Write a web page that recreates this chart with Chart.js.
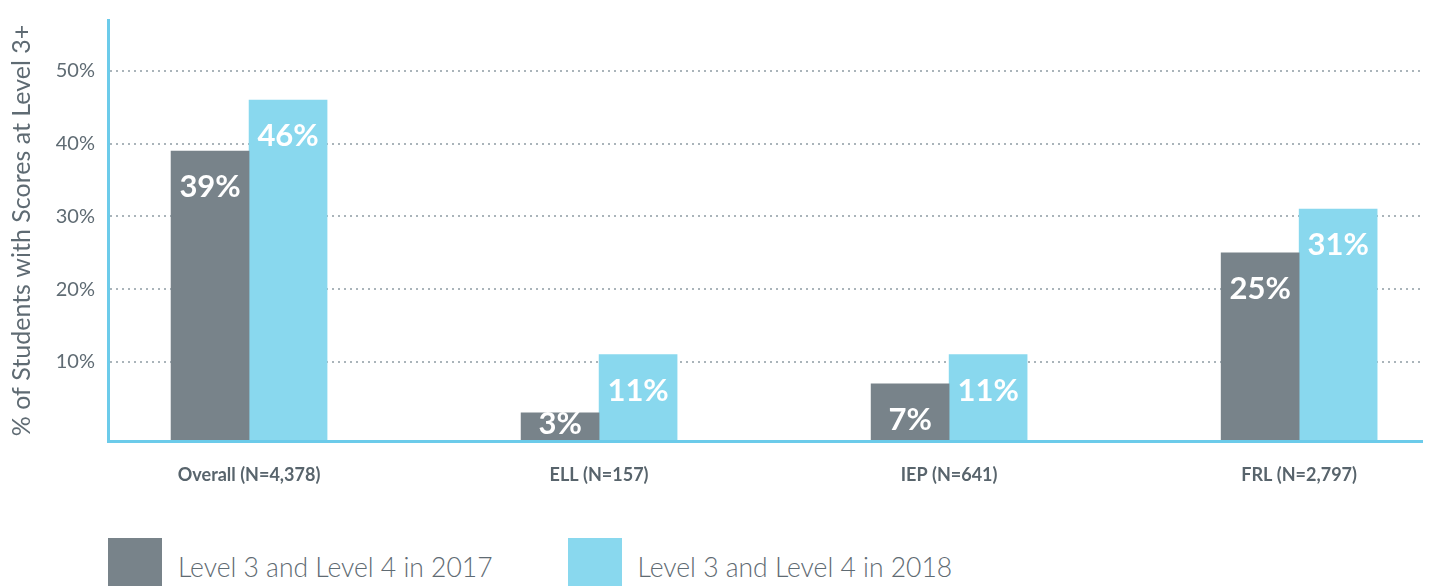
<!DOCTYPE html>
<html>
<head>
<meta charset="utf-8">
<script src="https://cdn.jsdelivr.net/npm/chart.js@4/dist/chart.umd.min.js"></script>
<style>
  body { margin: 0; background: #fff; font-family: Lato, sans-serif; }
  #wrap { position: relative; width: 1429px; height: 586px; overflow: hidden; }
  #box { position: absolute; left: 0; top: 0; width: 1429px; height: 520px; }
  #legend { position: absolute; left: 108px; top: 538px; display: flex; }
  .item { display: flex; align-items: center; margin-right: 75px; }
  .swatch { width: 54px; height: 48px; margin-right: 16px; }
  .item span { font-size: 26.5px; font-weight: 300; color: #5f6b73; position: relative; top: 5px; }
</style>
</head>
<body>
<div id="wrap">
  <div id="box"><canvas id="myChart"></canvas></div>
  <div id="legend"></div>
</div>
<script>
const categories = ["Overall (N=4,378)", "ELL (N=157)", "IEP (N=641)", "FRL (N=2,797)"];
const values2017 = [39, 3, 7, 25];
const values2018 = [46, 11, 11, 31];
const yTicks = [10, 20, 30, 40, 50];
const seriesNames = ["Level 3 and Level 4 in 2017", "Level 3 and Level 4 in 2018"];

const gray = "#78838a";
const cyan = "#89d8ee";
const axisBlue = "#6ccbea";
const textGray = "#5f6b73";

function toPoints(values) {
  return values.map((v, i) => ({ x: i, y: v }));
}

// white % labels inside the top of each bar
const barLabels = {
  id: "barLabels",
  afterDatasetsDraw(chart) {
    const ctx = chart.ctx;
    ctx.save();
    ctx.fillStyle = "#fff";
    ctx.font = "bold 31px Lato";
    ctx.textAlign = "center";
    ctx.textBaseline = "middle";
    chart.data.datasets.forEach((ds, di) => {
      chart.getDatasetMeta(di).data.forEach((bar, i) => {
        const y = Math.min(bar.y + 36, bar.base - 17);
        ctx.fillText(ds.data[i].y + "%", bar.x, y);
      });
    });
    ctx.restore();
  }
};

const chart = new Chart(document.getElementById("myChart"), {
  type: "bar",
  data: {
    datasets: [
      { label: seriesNames[0], data: toPoints(values2017), backgroundColor: gray, base: -0.86 },
      { label: seriesNames[1], data: toPoints(values2018), backgroundColor: cyan, base: -0.86 }
    ]
  },
  options: {
    responsive: true,
    maintainAspectRatio: false,
    animation: false,
    barThickness: 78,
    layout: { padding: { top: 20, right: 7, left: 0, bottom: 0 } },
    plugins: { legend: { display: false }, tooltip: { enabled: false } },
    scales: {
      x: {
        type: "linear",
        offset: false,
        min: -0.403,
        max: 3.351,
        afterBuildTicks: s => { s.ticks = categories.map((c, i) => ({ value: i })); },
        afterFit: s => { s.height = 79; },
        grid: { display: false, drawTicks: false, offset: false },
        border: { color: axisBlue, width: 3, z: 1 },
        ticks: {
          padding: 23,
          maxRotation: 0,
          autoSkip: false,
          color: "#58646c",
          font: { family: "Lato", size: 18, weight: "bold" },
          callback: v => categories[v] ?? ""
        }
      },
      y: {
        min: -0.86,
        max: 57,
        afterBuildTicks: s => { s.ticks = yTicks.map(v => ({ value: v })); },
        afterFit: s => { s.width = 108; s.paddingTop = 0; s.paddingBottom = 0; },
        // border.dash dashes the grid lines in v4, the axis line stays solid
        grid: { color: "#aab4ba", lineWidth: 2, drawTicks: false },
        border: { color: axisBlue, width: 3, dash: [2, 4] },
        ticks: {
          padding: 13,
          color: textGray,
          font: { family: "Lato", size: 20 },
          callback: v => v + "%"
        },
        title: {
          display: true,
          text: "% of Students with Scores at Level 3+",
          color: textGray,
          font: { family: "Lato", size: 25 },
          padding: { top: 7, bottom: 0 }
        }
      }
    }
  },
  plugins: [barLabels]
});

const legend = document.getElementById("legend");
chart.data.datasets.forEach(ds => {
  const item = document.createElement("div");
  item.className = "item";
  item.innerHTML = '<div class="swatch" style="background:' + ds.backgroundColor + '"></div><span>' + ds.label + "</span>";
  legend.appendChild(item);
});
</script>
</body>
</html>
